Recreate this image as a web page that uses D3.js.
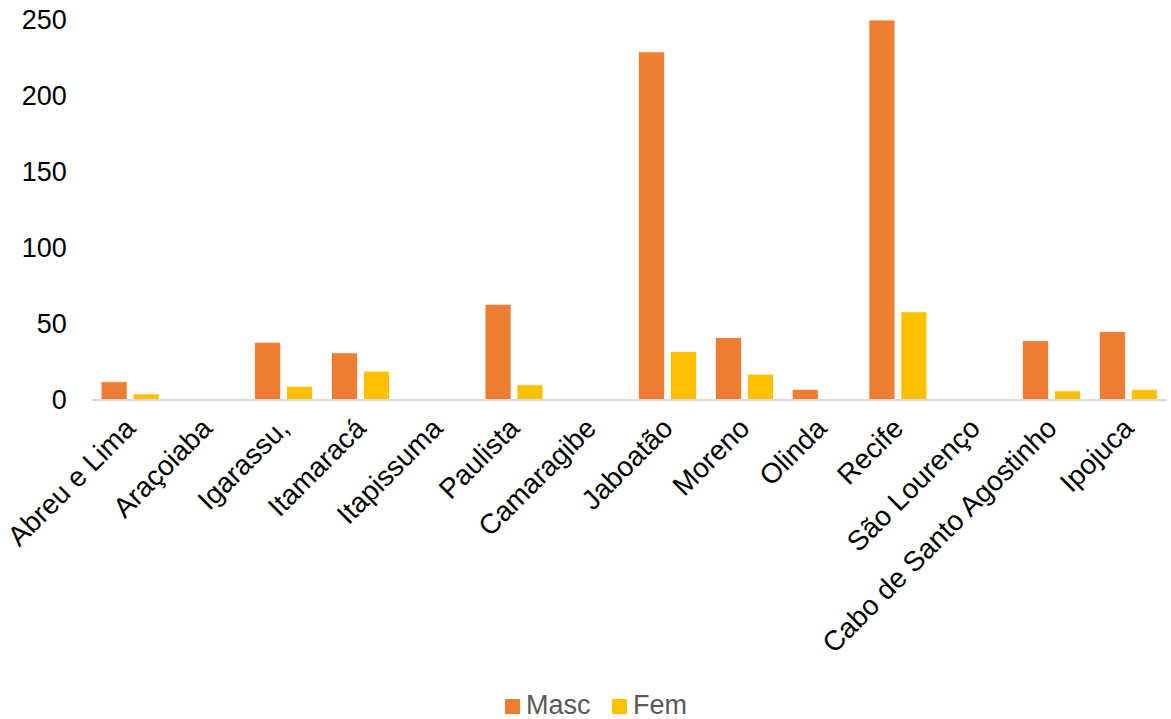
<!DOCTYPE html>
<html>
<head>
<meta charset="utf-8">
<script src="https://cdn.jsdelivr.net/npm/d3@7"></script>
<style>
    body { margin: 0; background: #ffffff; }
    #chart text { font-family: "Liberation Sans", Arial, sans-serif; }
</style>
</head>
<body>
<div id="chart"></div>
<script>

// municipalities on the x axis
const categories = ['Abreu e Lima', 'Araçoiaba', 'Igarassu,', 'Itamaracá', 'Itapissuma', 'Paulista',
    'Camaragibe', 'Jaboatão', 'Moreno', 'Olinda', 'Recife', 'São Lourenço', 'Cabo de Santo Agostinho', 'Ipojuca'];

const seriesNames = ['Masc', 'Fem'];
const mascValues = [12, 0, 38, 31, 0, 63, 0, 229, 41, 7, 250, 0, 39, 45];
const femValues = [4, 0, 9, 19, 0, 10, 0, 32, 17, 0, 58, 0, 6, 7];
const yTicks = [0, 50, 100, 150, 200, 250];

class GroupedBarChart {

    constructor (categories, series) {
        this.categories = categories;
        this.series = series;
        this.width = 1171;
        this.height = 719;
        // plot box
        this.plot = {left: 91.7, right: 1166.7, top: 20, bottom: 400};

        this.svg = d3.select("#chart").append("svg")
            .attr("width", this.width)
            .attr("height", this.height);

        this.colorScale = d3.scaleOrdinal()
            .domain(seriesNames)
            .range(['#ED7D31', '#FFC000']);  // orange, gold

        this.update();
    }

    update () {
        let x0 = d3.scaleBand()
            .domain(this.categories)
            .range([this.plot.left, this.plot.right])
            .paddingInner(0.245)
            .paddingOuter(0.1225);

        let x1 = d3.scaleBand()
            .domain(seriesNames)
            .range([0, x0.bandwidth()])
            .paddingInner(0.1875);

        let y = d3.scaleLinear()
            .domain([0, 250])
            .range([this.plot.bottom, this.plot.top]);

        // bars
        let groups = this.svg.append('g')
            .selectAll('g')
            .data(this.categories.map((c, i) => ({cat: c, vals: this.series.map(s => ({name: s.name, v: s.values[i]}))})))
            .enter().append('g')
            .attr('transform', d => 'translate(' + x0(d.cat) + ',0)');

        groups.selectAll('rect')
            .data(d => d.vals.filter(e => e.v > 0))
            .enter().append('rect')
            .attr('x', d => x1(d.name))
            .attr('y', d => y(d.v))
            .attr('width', x1.bandwidth())
            .attr('height', d => y(0) - y(d.v))
            .style('fill', d => this.colorScale(d.name))
            .style('stroke', '#ffffff')
            .style('stroke-width', 0.75);

        // y axis labels, no line, no ticks
        let yAxis = this.svg.append('g')
            .attr('transform', 'translate(' + (this.plot.left - 25) + ',0)')
            .call(d3.axisLeft(y).tickValues(yTicks).tickSize(0).tickPadding(0));
        yAxis.select('.domain').remove();
        yAxis.selectAll('text')
            .style('font-size', '27px')
            .style('fill', '#000000');

        // baseline
        this.svg.append('line')
            .attr('x1', this.plot.left)
            .attr('x2', this.plot.right)
            .attr('y1', y(0))
            .attr('y2', y(0))
            .style('stroke', '#d9d9d9')
            .style('stroke-width', 2);

        // rotated category labels
        let xAxis = this.svg.append('g')
            .call(d3.axisBottom(x0).tickSize(0));
        xAxis.select('.domain').remove();
        xAxis.selectAll('.tick')
            .attr('transform', d => 'translate(' + (x0(d) + x0.bandwidth() / 2 + 7) + ',' + (y(0) + 30) + ')');
        xAxis.selectAll('text')
            .attr('x', 0)
            .attr('y', 0)
            .attr('dy', 0)
            .attr('text-anchor', 'end')
            .attr('transform', 'rotate(-45)')
            .style('font-size', '28px')
            .style('fill', '#000000');

        // legend
        let legend = this.svg.append('g')
            .attr('transform', 'translate(505,699)');
        let items = legend.selectAll('g')
            .data(seriesNames)
            .enter().append('g')
            .attr('transform', (d, i) => 'translate(' + (i * 107) + ',0)');
        items.append('rect')
            .attr('width', 15)
            .attr('height', 15)
            .style('fill', d => this.colorScale(d));
        items.append('text')
            .attr('x', 21)
            .attr('y', 15)
            .style('font-size', '27px')
            .style('fill', '#595959')
            .text(d => d);
    }
}

let chart = new GroupedBarChart(categories, [
    {name: 'Masc', values: mascValues},
    {name: 'Fem', values: femValues}
]);

</script>
</body>
</html>
